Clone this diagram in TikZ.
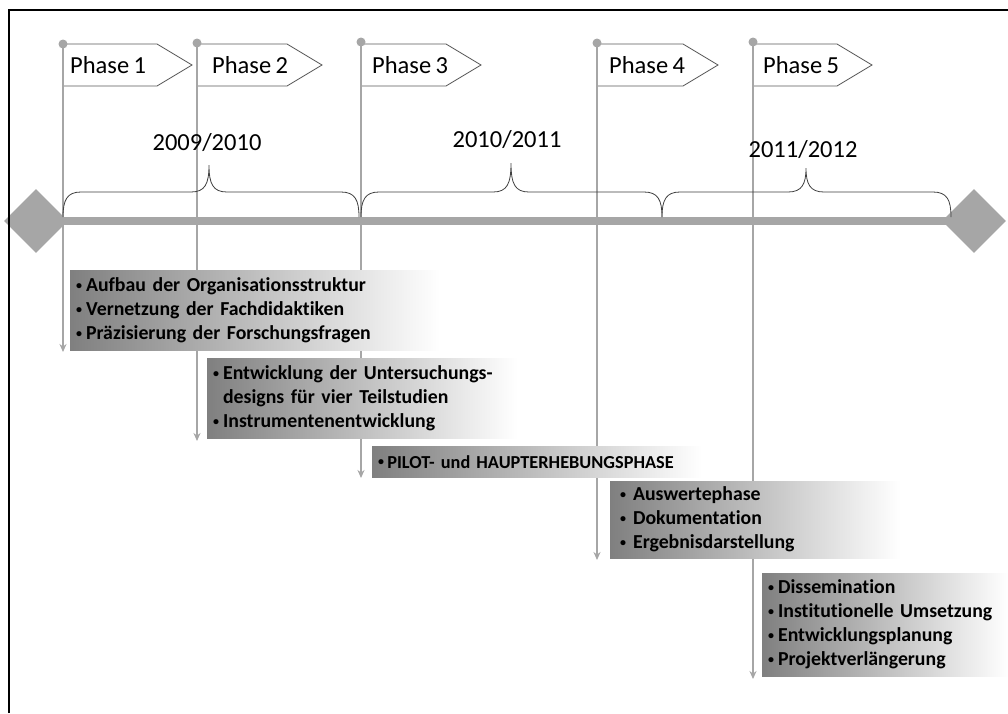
\documentclass[tikz,border=0pt]{standalone}
\usepackage{fontspec}
\setmainfont[Ligatures=NoCommon,WordSpace=0.8]{Carlito}
\usetikzlibrary{arrows.meta,shapes.geometric}
\definecolor{tlgray}{HTML}{A6A6A6}
\definecolor{flagedge}{HTML}{595959}
\definecolor{bracecol}{HTML}{404040}
\newcommand{\pbul}{\makebox[0.5em][l]{\raisebox{0.12em}{\fontsize{12}{12}\selectfont •}}}
\newcommand{\pind}{\hspace*{0.5em}}
\begin{document}
\begin{tikzpicture}[x=1pt,y=-1pt,
  pole/.style={draw=tlgray,line width=2.8pt,-{Stealth[length=8pt,width=7pt]}},
  dotnode/.style={circle,fill=tlgray,inner sep=0pt,minimum size=9pt},
  flagshape/.style={draw=flagedge,fill=white,line width=0.8pt},
  flagtext/.style={anchor=west,inner sep=0pt,font=\fontsize{24.5}{28}\selectfont},
  yeartext/.style={inner sep=0pt,font=\fontsize{24.5}{28}\selectfont},
  bracestyle/.style={draw=bracecol,line width=0.8pt},
  diam/.style={diamond,fill=tlgray,inner sep=0pt,minimum width=64pt,minimum height=64pt},
  box/.style={anchor=north west,left color=black!50,right color=white,shading angle=90,
    inner xsep=6pt,inner ysep=0pt,align=left,font=\bfseries\fontsize{19.8}{24}\selectfont}
]
\useasboundingbox (0,0) rectangle (1008,713);
\fill[white] (0,0) rectangle (1008,713);

% timeline
\node[diam] (dl) at (36,221) {};
\node[diam] (dr) at (974,221) {};
\draw[tlgray,line width=8pt] (dl.center) -- (dr.center);

% flags
\foreach \x/\r in {63/157,197/287,361/446,597/683,753/837}{
  \draw[flagshape] (\x,44) -- (\r,44) -- (\r+35,65) -- (\r,86) -- (\x,86);
}

% poles
\node[dotnode] (t1) at (63,44) {};
\node[dotnode] (t2) at (197,43) {};
\node[dotnode] (t3) at (361,42) {};
\node[dotnode] (t4) at (597,43) {};
\node[dotnode] (t5) at (753,42) {};
\coordinate (e1) at (63,352);
\coordinate (e2) at (197,441);
\coordinate (e3) at (361,478);
\coordinate (e4) at (597,560);
\coordinate (e5) at (753,679);
\draw[pole] (t1.center) -- (e1);
\draw[pole] (t2.center) -- (e2);
\draw[pole] (t3.center) -- (e3);
\draw[pole] (t4.center) -- (e4);
\draw[pole] (t5.center) -- (e5);

\node[flagtext] (p1) at (70,65) {Phase 1};
\node[flagtext] (p2) at (212,65) {Phase 2};
\node[flagtext] (p3) at (372,65) {Phase 3};
\node[flagtext] (p4) at (609,65) {Phase 4};
\node[flagtext] (p5) at (763,65) {Phase 5};

% years
\node[yeartext] (y1) at (207,143) {2009/2010};
\node[yeartext] (y2) at (507,140) {2010/2011};
\node[yeartext] (y3) at (803,150) {2011/2012};

% braces
\foreach \a/\m/\b/\t in {63/209/359/165,361/511/662/163,662/806/951/168}{
  \draw[bracestyle] (\a,217) .. controls (\a,200) and (\a+4,192) .. (\a+18,192)
    -- (\m-18,192) .. controls (\m-4,192) and (\m,184) .. (\m,\t)
    .. controls (\m,184) and (\m+4,192) .. (\m+18,192)
    -- (\b-18,192) .. controls (\b-4,192) and (\b,200) .. (\b,217);
}

% boxes
\node[box,minimum width=370pt,minimum height=80pt,text width=358pt] (b1) at (70,270)
 {\pbul Aufbau der Organisationsstruktur\\ \pbul Vernetzung der Fachdidaktiken\\ \pbul Präzisierung der Forschungsfragen};
\node[box,minimum width=310pt,minimum height=80pt,text width=298pt] (b2) at (207,358)
 {\pbul Entwicklung der Untersuchungs-\\ \pind designs für vier Teilstudien\\ \pbul Instrumentenentwicklung};
\node[box,minimum width=330pt,minimum height=31pt,text width=318pt,font=\bfseries\fontsize{18.3}{24}\selectfont] (b3) at (372,446)
 {\pbul PILOT- und HAUPTERHEBUNGSPHASE};
\node[box,minimum width=290pt,minimum height=77pt,text width=278pt] (b4) at (610,481)
 {\hspace*{4pt}\pbul\hspace*{3pt}Auswertephase\\ \hspace*{4pt}\pbul\hspace*{3pt}Dokumentation\\ \hspace*{4pt}\pbul\hspace*{3pt}Ergebnisdarstellung};
\node[box,minimum width=246pt,minimum height=103pt,text width=234pt] (b5) at (762,573)
 {\pbul Dissemination\\ \pbul Institutionelle Umsetzung\\ \pbul Entwicklungsplanung\\ \pbul Projektverlängerung};

% frame
\draw[black,line width=1.6pt] (9,713) -- (9,10) -- (1008,10);
\end{tikzpicture}
\end{document}
